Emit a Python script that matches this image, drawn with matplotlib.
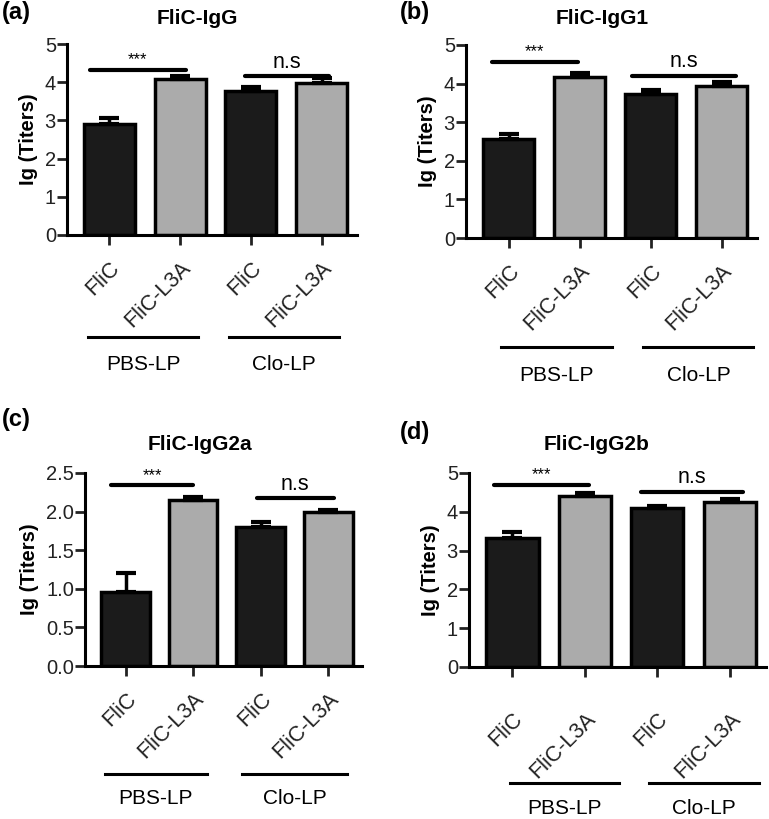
import numpy as np
import matplotlib
matplotlib.use('Agg')
import matplotlib.pyplot as plt
import matplotlib.transforms as mtransforms

plt.rcParams['font.family'] = ['Liberation Sans', 'DejaVu Sans']

# Data
groups = ['FliC', 'FliC-L3A', 'FliC', 'FliC-L3A']
group_labels = ['PBS-LP', 'Clo-LP']
titles = ['FliC-IgG', 'FliC-IgG1', 'FliC-IgG2a', 'FliC-IgG2b']
panel_tags = ['(a)', '(b)', '(c)', '(d)']

igg_mean = [2.91, 4.09, 3.78, 3.98]
igg_err = [0.14, 0.06, 0.10, 0.12]
igg1_mean = [2.56, 4.18, 3.72, 3.94]
igg1_err = [0.14, 0.09, 0.11, 0.09]
igg2a_mean = [0.96, 2.15, 1.80, 1.99]
igg2a_err = [0.24, 0.04, 0.06, 0.03]
igg2b_mean = [3.32, 4.41, 4.09, 4.24]
igg2b_err = [0.17, 0.07, 0.05, 0.10]

sig_star_y = [4.33, 4.57, 2.34, 4.70]
sig_ns_y = [4.15, 4.20, 2.17, 4.52]

means = [igg_mean, igg1_mean, igg2a_mean, igg2b_mean]
errs = [igg_err, igg1_err, igg2a_err, igg2b_err]
ymax = [5, 5, 2.5, 5]
ystep = [1, 1, 0.5, 1]

# Layout (pixels of the 769x819 canvas)
W, H = 769, 819
layout = [
    dict(ax=(67, 44, 357, 235), tag=(2, 12), title=(197, 19), pad=4,
         star_x=(-0.28, 1.08), ns_x=(1.92, 3.11), grp=[(-0.30, 1.25), (1.69, 3.24)], gy=-0.534, gly=-0.68),
    dict(ax=(466, 45, 757, 238), tag=(400, 12), title=(602, 19), pad=4,
         star_x=(-0.24, 0.98), ns_x=(1.74, 3.21), grp=[(-0.10, 1.45), (1.90, 3.45)], gy=-0.565, gly=-0.71),
    dict(ax=(85, 473, 362, 666), tag=(2, 420), title=(200, 445), pad=4,
         star_x=(-0.21, 1.0), ns_x=(1.94, 3.08), grp=[(-0.31, 1.21), (1.73, 3.28)], gy=-0.56, gly=-0.684),
    dict(ax=(469, 473, 766, 667), tag=(400, 433), title=(597, 445), pad=18,
         star_x=(-0.25, 1.05), ns_x=(1.77, 3.18), grp=[(-0.04, 1.47), (1.88, 3.41)], gy=-0.598, gly=-0.727),
]

dark = '#1b1b1b'
gray = '#ababab'
colors = [dark, gray, dark, gray]

fig = plt.figure(figsize=(W / 100, H / 100), dpi=100)
x = np.arange(len(groups))

for i in range(4):
    L = layout[i]
    l, t, r, b = L['ax']
    ax = fig.add_axes([l / W, 1 - b / H, (r - l) / W, (b - t) / H])
    ax.bar(x, means[i], width=0.72, color=colors, edgecolor='black', linewidth=2.5, zorder=2)
    lower = np.zeros(len(x))
    ax.errorbar(x, means[i], yerr=[lower, errs[i]], fmt='none', ecolor='black',
                elinewidth=2.5, capsize=7, capthick=3, zorder=3)

    ax.set_xlim(-0.6, 3.5)
    ax.set_ylim(0, ymax[i])
    yt = np.arange(0, ymax[i] + 0.01, ystep[i])
    ax.set_yticks(yt)
    if ystep[i] < 1:
        ax.set_yticklabels(['%.1f' % v for v in yt])
    ax.set_xticks(x)
    ax.set_xticklabels(groups, rotation=45, ha='right', rotation_mode='anchor')
    ax.tick_params(axis='both', direction='out', length=7, width=2, labelsize=14.5, colors='#222222')
    ax.tick_params(axis='x', pad=L['pad'] + 5, labelsize=15.5)
    ax.tick_params(axis='y', pad=1)
    for s in ['top', 'right']:
        ax.spines[s].set_visible(False)
    for s in ['left', 'bottom']:
        ax.spines[s].set_linewidth(2.2)
    ax.set_ylabel('Ig (Titers)', fontsize=14.5, fontweight='bold', labelpad=5)

    # significance lines
    ax.plot(L['star_x'], [sig_star_y[i]] * 2, color='black', lw=3, zorder=4, solid_capstyle='round')
    ax.text(np.mean(L['star_x']), sig_star_y[i] + ymax[i] * 0.012, '***', ha='center', va='bottom', fontsize=12)
    ax.plot(L['ns_x'], [sig_ns_y[i]] * 2, color='black', lw=3, zorder=4, solid_capstyle='round', clip_on=False)
    ax.text(np.mean(L['ns_x']), sig_ns_y[i] + ymax[i] * 0.02, 'n.s', ha='center', va='bottom', fontsize=15.5)

    # group lines under the axis
    trans = mtransforms.blended_transform_factory(ax.transData, ax.transAxes)
    for (x0, x1), name in zip(L['grp'], group_labels):
        ax.plot([x0, x1], [L['gy'], L['gy']], color='black', lw=2.2, transform=trans, clip_on=False)
        ax.text((x0 + x1) / 2, L['gly'], name, ha='center', va='center', fontsize=15, transform=trans)

    fig.text(L['tag'][0] / W, 1 - L['tag'][1] / H, panel_tags[i], fontsize=17, fontweight='bold', va='center', ha='left')
    fig.text(L['title'][0] / W, 1 - L['title'][1] / H, titles[i], fontsize=15, fontweight='bold', va='center', ha='center')

fig.savefig('out.png', dpi=100)
